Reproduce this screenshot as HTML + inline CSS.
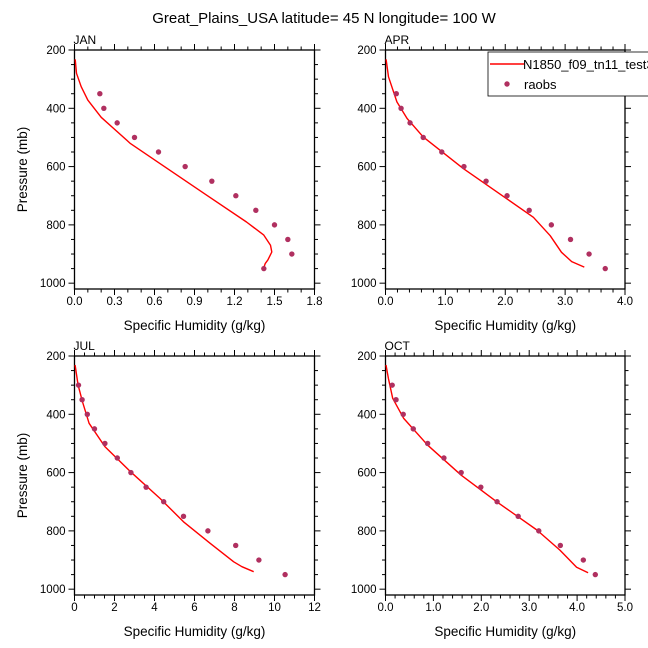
<!DOCTYPE html>
<html><head><meta charset="utf-8"><style>
html,body{margin:0;padding:0;background:#fff;}
svg{display:block;font-family:"Liberation Sans",Arial,sans-serif;}
</style></head><body>
<svg id="chart" width="648" height="648" viewBox="0 0 648 648">
<rect width="648" height="648" fill="#fff"/>
<text x="324" y="23" font-size="15" text-anchor="middle">Great_Plains_USA  latitude= 45 N longitude= 100 W</text>
</svg>
<script>
const months = ["JAN","APR","JUL","OCT"];
const obsP = [350,400,450,500,550,600,650,700,750,800,850,900,950];
const obsJAN = [0.19,0.22,0.32,0.45,0.63,0.83,1.03,1.21,1.36,1.50,1.60,1.63,1.42];
const obsAPR = [0.18,0.26,0.41,0.63,0.94,1.31,1.68,2.03,2.40,2.77,3.09,3.40,3.67];
const obsJUL = [0.2,0.38,0.64,1.0,1.52,2.14,2.82,3.58,4.46,5.45,6.67,8.06,9.22,10.53];
const obsOCT = [0.14,0.22,0.37,0.58,0.88,1.22,1.58,1.99,2.33,2.77,3.2,3.65,4.13,4.38];
const obsP14 = [300,350,400,450,500,550,600,650,700,750,800,850,900,950];
const modJANq = [0.005,0.015,0.05,0.10,0.20,0.42,0.64,0.99,1.29,1.42,1.47,1.48,1.45,1.43,1.42];
const modJANp = [232,280,326,372,431,521,589,698,790,835,870,893,921,933,947];
const modAPRq = [0.01,0.05,0.19,0.36,0.63,1.30,2.03,2.47,2.75,2.94,3.11,3.32];
const modAPRp = [232,292,378,435,498,607,711,774,837,894,926,945];
const modJULq = [0.03,0.18,0.4,0.73,1.52,2.8,4.28,5.45,6.79,7.96,8.37,8.96];
const modJULp = [231,300,357,431,511,597,689,769,843,906,923,940];
const modOCTq = [0.01,0.06,0.15,0.38,0.88,1.58,2.32,3.16,3.64,3.99,4.23];
const modOCTp = [231,277,345,414,506,609,700,797,866,925,944];
const xMaxes = [1.8,4.0,12,5.0];
const xMajor = [0.3,1.0,2,1.0];
const xMinor = [0.1,0.2,0.5,0.2];
const xDec = [1,1,0,1];
const yTicks = [200,400,600,800,1000];

const NS="http://www.w3.org/2000/svg";
const svg=document.getElementById('chart');
function mk(tag,attrs,parent){const e=document.createElementNS(NS,tag);for(const k in attrs)e.setAttribute(k,attrs[k]);(parent||svg).appendChild(e);return e;}

const panels=[
 {x0:74.5,x1:314.5,y0:50,y1:289,obsQ:obsJAN,obsP:obsP,mq:modJANq,mp:modJANp,ylab:true},
 {x0:385.5,x1:625,y0:50,y1:289,obsQ:obsAPR,obsP:obsP,mq:modAPRq,mp:modAPRp,ylab:false},
 {x0:74.5,x1:314.5,y0:356,y1:595,obsQ:obsJUL,obsP:obsP14,mq:modJULq,mp:modJULp,ylab:true},
 {x0:385.5,x1:625,y0:356,y1:595,obsQ:obsOCT,obsP:obsP14,mq:modOCTq,mp:modOCTp,ylab:false}
];

panels.forEach((pn,i)=>{
  const g=mk('g',{});
  
  
  const xmax=xMaxes[i];
  const sx=v=>pn.x0+(v/xmax)*(pn.x1-pn.x0);
  const ppx=(pn.y1-pn.y0)/820;
  const sy=p=>pn.y0+(p-200)*ppx;
  const fr=mk('rect',{x:pn.x0,y:pn.y0,width:pn.x1-pn.x0,height:pn.y1-pn.y0,fill:'none',stroke:'#000','stroke-width':1.3},g);
  
  
  const nMin=Math.round(xmax/xMinor[i]);
  for(let k=0;k<=nMin;k++){
    const v=k*xMinor[i];
    const isMaj=Math.abs(v/xMajor[i]-Math.round(v/xMajor[i]))<1e-6;
    const len=isMaj?6:3.5;const x=sx(v);
    mk('line',{x1:x,x2:x,y1:pn.y1,y2:pn.y1+len,stroke:'#000','stroke-width':1},g);
    mk('line',{x1:x,x2:x,y1:pn.y0,y2:pn.y0-len,stroke:'#000','stroke-width':1},g);
    if(isMaj){
      const t=mk('text',{x:x,y:pn.y1+16,'font-size':11.5,'text-anchor':'middle'},g);
      t.textContent=v.toFixed(xDec[i]);
      
      
    }
  }
  for(let p=200;p<=1000;p+=50){
    const isMaj=p%200===0;const len=isMaj?6:3.5;const y=sy(p);
    mk('line',{x1:pn.x0-len,x2:pn.x0,y1:y,y2:y,stroke:'#000','stroke-width':1},g);
    mk('line',{x1:pn.x1,x2:pn.x1+len,y1:y,y2:y,stroke:'#000','stroke-width':1},g);
  }
  yTicks.forEach(p=>{
    const t=mk('text',{x:pn.x0-9,y:sy(p)+4,'font-size':11.5,'text-anchor':'end'},g);
    t.textContent=p;
    
    
  });
  const ml=mk('text',{x:pn.x0-1,y:pn.y0-6,'font-size':12},g);
  ml.textContent=months[i];
  
  
  const xl=mk('text',{x:(pn.x0+pn.x1)/2,y:pn.y1+41,'font-size':13.5,'text-anchor':'middle'},g);
  xl.textContent='Specific Humidity (g/kg)';
  
  
  if(pn.ylab){
    const cy=(pn.y0+pn.y1)/2;
    const yl=mk('text',{x:27,y:cy,'font-size':13.5,'text-anchor':'middle',transform:'rotate(-90 27 '+cy+')'},g);
    yl.textContent='Pressure (mb)';
    
    
  }
  const d=pn.mq.map((q,k)=>(k?'L':'M')+sx(q).toFixed(1)+','+sy(pn.mp[k]).toFixed(1)).join(' ');
  const ln=mk('path',{d:d,fill:'none',stroke:'#ff0000','stroke-width':1.4,'stroke-linejoin':'round'},g);
  
  
  pn.obsQ.forEach((q,k)=>{
    const c=mk('circle',{cx:sx(q),cy:sy(pn.obsP[k]),r:2.7,fill:'#b03060'},g);
    
    
  });
});

const lg=mk('g',{});


mk('rect',{x:488,y:52,width:170,height:44,fill:'#fff',stroke:'#000','stroke-width':0.8},lg);
const l1=mk('line',{x1:490,x2:524,y1:64,y2:64,stroke:'#ff0000','stroke-width':1.4},lg);


const t1=mk('text',{x:523,y:69,'font-size':13},lg);
t1.textContent='N1850_f09_tn11_test3';


const c1=mk('circle',{cx:507,cy:84,r:2.7,fill:'#b03060'},lg);


const t2=mk('text',{x:524,y:89,'font-size':13},lg);
t2.textContent='raobs';


</script>
</body></html>
